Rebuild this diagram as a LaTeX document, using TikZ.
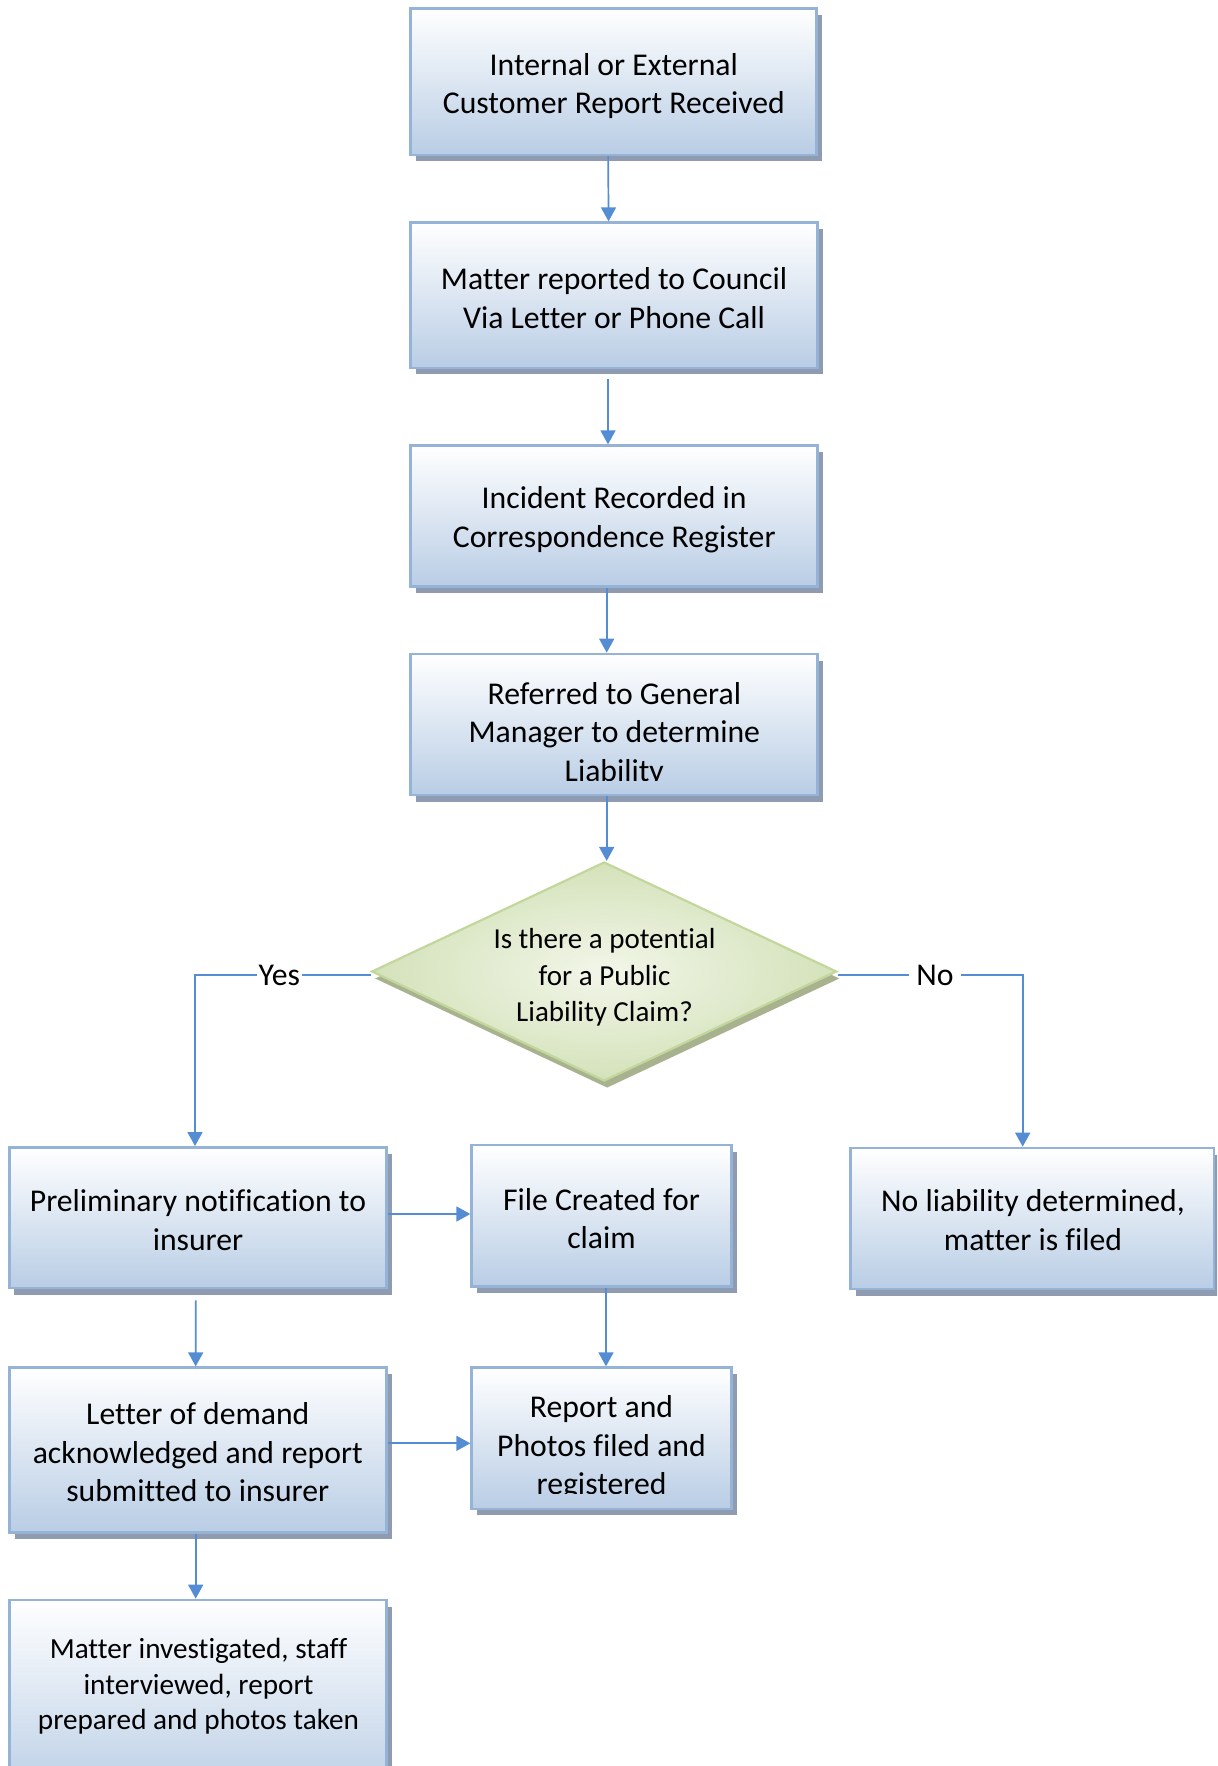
\documentclass[tikz,border=0pt]{standalone}
\usepackage{fontspec}
\setmainfont{Carlito}[Ligatures={NoCommon}]
\usetikzlibrary{shapes.geometric,shadows,arrows.meta}
\definecolor{boxedge}{RGB}{149,179,215}
\definecolor{boxbot}{RGB}{185,205,229}
\definecolor{boxshadow}{RGB}{142,155,176}
\definecolor{dedge}{RGB}{195,214,155}
\definecolor{dinner}{RGB}{242,246,233}
\definecolor{douter}{RGB}{212,226,186}
\definecolor{dshadow}{RGB}{168,178,143}
\definecolor{conn}{RGB}{84,141,212}
\newcommand\Tst{\rule{0pt}{13pt}}
\newcommand\Bst{\rule[-13pt]{0pt}{13pt}}
\begin{document}
\begin{tikzpicture}[x=0.5pt,y=-0.5pt,
  box/.style={rectangle, draw=boxedge, line width=1.35pt, top color=white, bottom color=boxbot,
    inner sep=0pt, general shadow={fill=boxshadow, shadow xshift=2.5pt, shadow yshift=-3.25pt}},
  dec/.style={diamond, draw=dedge, line width=1.1pt, inner color=dinner, outer color=douter,
    inner sep=0pt, minimum width=232.5pt, minimum height=109.5pt,
    general shadow={fill=dshadow, shadow xshift=1.5pt, shadow yshift=-3.5pt}},
  btext/.style={align=center, inner sep=0pt, text=black, font=\fontsize{15.85pt}{19.3pt}\selectfont},
  dtext/.style={btext, font=\fontsize{14.5pt}{18.2pt}\selectfont},
  mtext/.style={btext, font=\fontsize{14.6pt}{17.7pt}\selectfont},
  lbl/.style={fill=white, inner ysep=1pt, text=black, font=\fontsize{15.85pt}{19pt}\selectfont},
  arr/.style={draw=conn, line width=0.85pt, -{Triangle[width=7.5pt,length=7pt]}}
]
\useasboundingbox (0,0) rectangle (1217,1766);
\clip (0,0) rectangle (1217,1766);

% boxes
\node[box, minimum width=203pt, minimum height=73.2pt] (B1) at (613.7,81.7) {};
\node[box, minimum width=203.5pt, minimum height=72.6pt] (B2) at (614.2,295.3) {};
\node[box, minimum width=203.5pt, minimum height=70.5pt] (B3) at (614.2,516.2) {};
\node[box, minimum width=203.5pt, minimum height=70.5pt] (B4) at (614.2,724.5) {};
\node[dec] (D) at (604.2,971.5) {};
\node[box, minimum width=188.7pt, minimum height=70.3pt] (P) at (198,1217.7) {};
\node[box, minimum width=130pt, minimum height=70.8pt] (F) at (601.7,1215.8) {};
\node[box, minimum width=181.6pt, minimum height=70.5pt] (N) at (1032.3,1218.5) {};
\node[box, minimum width=188.5pt, minimum height=82.5pt] (L) at (198.2,1450.2) {};
\node[box, minimum width=130pt, minimum height=70.6pt] (R) at (601.7,1438.3) {};
\node[box, minimum width=188.5pt, minimum height=100pt] (M) at (198.2,1700) {};

% texts
\node[btext] (B1t) at (613.8,94.5) {\Tst Internal or External\\Customer Report Received\Bst};
\node[btext] (B2t) at (614,309) {\Tst Matter reported to Council\\Via Letter or Phone Call\Bst};
\node[btext] (B3t) at (614.2,528) {\Tst Incident Recorded in\\Correspondence Register\Bst};
\begin{scope}
  \clip (405,650) rectangle (822,780);
  \node[btext] (B4t) at (614.3,742.8) {\Tst Referred to General\\Manager to determine\\Liability\Bst};
\end{scope}
\node[dtext] (Dt) at (604.5,985) {\Tst Is there a potential\\for a Public\\Liability Claim?\Bst};
\node[btext] (Pt) at (198,1231) {\Tst Preliminary notification to\\insurer\Bst};
\node[btext] (Ft) at (601.5,1229.5) {\Tst File Created for\\claim\Bst};
\node[btext] (Nt) at (1033,1231) {\Tst No liability determined,\\matter is filed\Bst};
\node[btext] (Lt) at (197.8,1463) {\Tst Letter of demand\\acknowledged and report\\submitted to insurer\Bst};
\begin{scope}
  \clip (466,1360) rectangle (737,1493);
  \node[btext] (Rt) at (601.5,1456) {\Tst Report and\\Photos filed and\\registered\Bst};
\end{scope}
\node[mtext] (Mt) at (198.5,1694) {\Tst Matter investigated, staff\\interviewed, report\\prepared and photos taken\Bst};

% connectors
\draw[arr] ([xshift=-2.8pt]B1.south) -- ([xshift=-2.8pt]B2.north);
\draw[arr, shorten <=5pt] ([xshift=-3.1pt]B2.south) -- ([xshift=-3.1pt]B3.north);
\draw[arr] ([xshift=-3.75pt]B3.south) -- ([xshift=-3.75pt]B4.north);
\draw[arr] ([xshift=-3.75pt]B4.south) -- ([xshift=1.25pt]D.north);
\draw[arr] ([yshift=-1.85pt]D.west) -| node[lbl, inner xsep=1pt, pos=0.26] {Yes} ([xshift=-1.5pt]P.north);
\draw[arr] ([yshift=-1.85pt]D.east) -| node[lbl, inner xsep=3.75pt, pos=0.263] {No} ([xshift=-4.8pt]N.north);
\draw[arr] ([yshift=1.85pt]P.east) -- ([yshift=0.9pt]F.west);
\draw[arr] ([xshift=2.15pt]F.south) -- ([xshift=2.15pt]R.north);
\draw[arr, shorten <=5.5pt] ([xshift=-1.15pt]P.south) -- ([xshift=-1.25pt]L.north);
\draw[arr] ([yshift=3.45pt]L.east) -- ([yshift=-2.5pt]R.west);
\draw[arr] ([xshift=-1.25pt]L.south) -- ([xshift=-1.25pt]M.north);
\end{tikzpicture}
\end{document}
